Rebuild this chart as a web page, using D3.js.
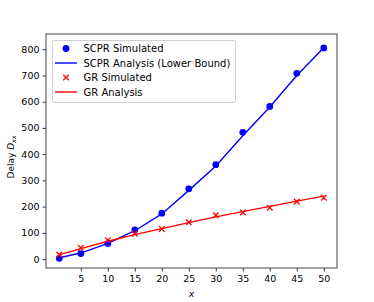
<!DOCTYPE html>
<html><head><meta charset="utf-8">
<script src="https://cdn.jsdelivr.net/npm/d3@7"></script>
<style>body{margin:0;background:#fff}svg{display:block}text{font-family:"DejaVu Sans",sans-serif}</style>
</head><body>
<svg id="c" width="374" height="302"></svg>
<script>
const xs = [1,5,10,15,20,25,30,35,40,45,50];
const scprSim = [3,21,59,111,175,268,360,483,582,708,805];
const scprAna = [5,23,60,108,172,262,355,470,580,700,806];
const grSim = [17,43,72,97,115,140,167,178,196,219,234];
const grAna = [16,40,68,93,116,139,161,181,201,221,240];
const xTicks = [5,10,15,20,25,30,35,40,45,50];
const yTicks = [0,100,200,300,400,500,600,700,800];
const legendLabels = ["SCPR Simulated","SCPR Analysis (Lower Bound)","GR Simulated","GR Analysis"];

const L=46,R=337,T=34,B=268, fs=9.5, lfs=10, afs=9;
const svg=d3.select("#c");
const x=d3.scaleLinear().domain([-1.45,52.45]).range([L,R]);
const y=d3.scaleLinear().domain([-34,858]).range([B,T]);

const xa=svg.append("g").attr("transform",`translate(0,${B})`).call(d3.axisBottom(x).tickValues(xTicks).tickSize(3.5).tickPadding(3.5));
const ya=svg.append("g").attr("transform",`translate(${L},0)`).call(d3.axisLeft(y).tickValues(yTicks).tickSize(3.5).tickPadding(3));
[xa,ya].forEach(a=>{a.select(".domain").remove();a.selectAll("text").attr("font-size",fs).attr("fill","#000").style("font-family","DejaVu Sans");a.selectAll("line").attr("stroke","#222").attr("stroke-width",0.9);});

const line=d3.line().x((d,i)=>x(xs[i])).y(d=>y(d));
svg.append("clipPath").attr("id","cl").append("rect").attr("x",L).attr("y",T).attr("width",R-L).attr("height",B-T);
const g=svg.append("g").attr("clip-path","url(#cl)");
g.append("path").datum(scprAna).attr("d",line).attr("fill","none").attr("stroke","#0000ff").attr("stroke-width",1.4);
g.append("path").datum(grAna).attr("d",line).attr("fill","none").attr("stroke","#ff0000").attr("stroke-width",1.4);
g.selectAll(".pt").data(scprSim).enter().append("circle").attr("cx",(d,i)=>x(xs[i])).attr("cy",d=>y(d)).attr("r",3.4).attr("fill","#0000ff");
const cross=(sel,cx,cy,s)=>sel.append("path").attr("d",`M${cx-s},${cy-s}L${cx+s},${cy+s}M${cx-s},${cy+s}L${cx+s},${cy-s}`).attr("stroke","#ff0000").attr("stroke-width",1.3).attr("fill","none");
grSim.forEach((d,i)=>cross(g,x(xs[i]),y(d),2.8));

svg.append("rect").attr("x",L).attr("y",T).attr("width",R-L).attr("height",B-T).attr("fill","none").attr("stroke","#444").attr("stroke-width",1);

// legend
const lg=svg.append("g");
lg.append("rect").attr("x",52.5).attr("y",40.5).attr("width",183).attr("height",62).attr("rx",2).attr("fill","#fff").attr("fill-opacity",0.8).attr("stroke","#d0d0d0").attr("stroke-width",1);
const rows=[48.5,63,77.5,92];
legendLabels.forEach((t,i)=>{
  const yy=rows[i];
  if(i===0) lg.append("circle").attr("cx",66).attr("cy",yy).attr("r",3.4).attr("fill","#0000ff");
  if(i===1) lg.append("line").attr("x1",55).attr("x2",77).attr("y1",yy).attr("y2",yy).attr("stroke","#0000ff").attr("stroke-width",1.4);
  if(i===2) cross(lg,66,yy,2.8);
  if(i===3) lg.append("line").attr("x1",55).attr("x2",77).attr("y1",yy).attr("y2",yy).attr("stroke","#ff0000").attr("stroke-width",1.4);
  lg.append("text").attr("x",83.5).attr("y",yy).attr("dy","0.35em").attr("font-size",lfs).text(t);
});

// axis labels
svg.append("text").attr("x",(L+R)/2).attr("y",296.5).attr("text-anchor","middle").attr("font-size",afs+0.5).attr("font-style","italic").text("x");
const yl=svg.append("text").attr("transform",`translate(14,157) rotate(-90)`).attr("text-anchor","middle").attr("font-size",afs);
yl.append("tspan").text("Delay ");
yl.append("tspan").attr("font-style","italic").text("D");
yl.append("tspan").attr("font-style","italic").attr("font-size",afs*0.7).attr("dy",2).text("xx");
</script>
</body></html>
